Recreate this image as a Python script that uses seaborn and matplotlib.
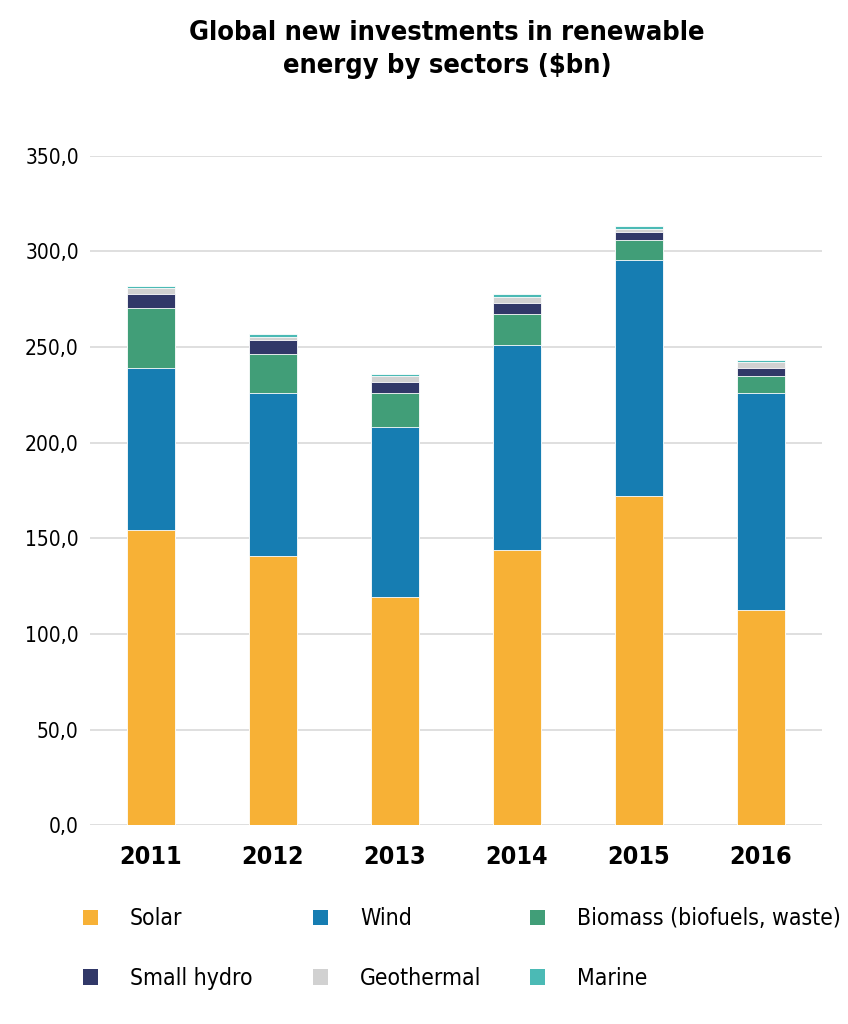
import matplotlib
matplotlib.use("Agg")
import matplotlib.pyplot as plt
import matplotlib.ticker as mticker
from matplotlib.patches import Patch
import numpy as np
import pandas as pd
import seaborn as sns

years = ["2011", "2012", "2013", "2014", "2015", "2016"]
solar = [154.6, 141.0, 119.1, 144.1, 172.3, 112.8]
wind = [84.4, 84.7, 88.9, 106.9, 123.1, 113.1]
biomass = [31.2, 20.8, 17.7, 16.4, 10.4, 8.9]
small_hydro = [7.4, 7.3, 5.8, 5.7, 4.4, 4.2]
geothermal = [3.0, 1.5, 3.1, 3.1, 1.5, 3.1]
marine = [1.4, 1.4, 1.3, 1.4, 1.4, 1.3]

sectors = ["Solar", "Wind", "Biomass (biofuels, waste)", "Small hydro", "Geothermal", "Marine"]
colors = ["#F7B136", "#167DB2", "#419E78", "#313868", "#D1D1D1", "#4BBAB5"]

sns.set_style("white")
plt.rcParams["font.family"] = ["DejaVu Sans"]
plt.rcParams["font.stretch"] = "condensed"
plt.rcParams["text.color"] = "black"
plt.rcParams["xtick.color"] = "black"
plt.rcParams["ytick.color"] = "black"

df = pd.DataFrame({"year": years})
series = [solar, wind, biomass, small_hydro, geothermal, marine]
cum = np.cumsum(np.array(series), axis=0)
for name, c in zip(sectors, cum):
    df[name] = c

fig = plt.figure(figsize=(8.48, 10.24), dpi=100)
ax = fig.add_axes([0.106, 0.194, 0.863, 0.654])

# draw cumulative totals from the top layer down so each lower layer covers the one above
for name, col in reversed(list(zip(sectors, colors))):
    sns.barplot(data=df, x="year", y=name, color=col, width=0.39, ax=ax,
                saturation=1, edgecolor="white", linewidth=0.6)

ax.set_ylim(0, 350)
ax.set_yticks(np.arange(0, 351, 50))
ax.yaxis.set_major_formatter(mticker.FuncFormatter(lambda v, p: f"{v:.1f}".replace(".", ",")))
ax.grid(axis="y", color="#D9D9D9", linewidth=1.2)
ax.set_axisbelow(True)
for s in ax.spines.values():
    s.set_visible(False)
ax.set_xlabel("")
ax.set_ylabel("")
ax.tick_params(axis="y", labelsize=15, length=0, pad=8)
ax.tick_params(axis="x", labelsize=18, length=0, pad=14)
for t in ax.get_xticklabels():
    t.set_fontweight("bold")

fig.text(0.527, 0.952, "Global new investments in renewable\nenergy by sectors ($bn)",
         ha="center", va="center", fontsize=19.5, fontweight="bold", linespacing=1.35)

# one small legend per column so the columns sit where the reference has them
col_x = [0.098, 0.369, 0.625]
for j, x in enumerate(col_x):
    idx = [j, j + 3]
    handles = [Patch(facecolor=colors[i], edgecolor="none") for i in idx]
    fig.legend(handles, [sectors[i] for i in idx], loc="upper left",
               bbox_to_anchor=(x, 0.114), frameon=False, fontsize=16.5,
               handlelength=0.65, handleheight=0.65, handletextpad=1.4,
               labelspacing=1.6, borderpad=0, borderaxespad=0)

fig.savefig("out.png", dpi=100)
